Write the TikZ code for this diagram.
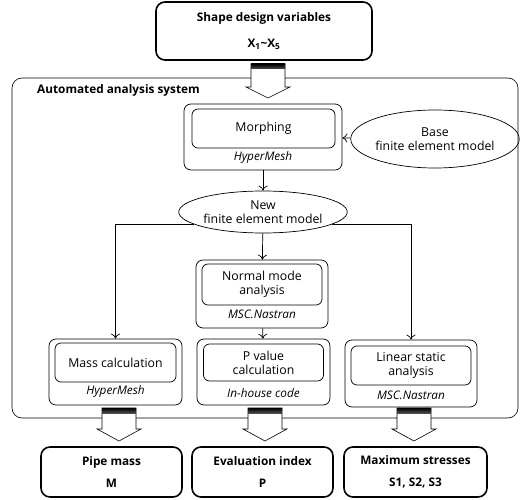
\documentclass[tikz,border=0pt]{standalone}
\usepackage{fontspec}
\setmainfont{Open Sans}
\usetikzlibrary{shapes.geometric,positioning,arrows.meta}

\begin{document}
\begin{tikzpicture}[x=1pt, y=-1pt, font=\fontsize{12.3}{14}\selectfont,
  box/.style={draw, rounded corners=7pt, line width=0.7pt, align=center, inner sep=0pt},
  inbox/.style={box, rounded corners=6pt},
  tool/.style={inner sep=0pt, font=\fontsize{11.8}{13}\selectfont\itshape},
  io/.style={draw, rounded corners=9pt, line width=1.6pt, align=center, inner sep=0pt, font=\fontsize{11.8}{14}\selectfont\bfseries},
  fem/.style={ellipse, draw, line width=0.7pt, align=center, inner sep=0pt},
  flow/.style={-{To[length=5pt, width=9pt]}, line width=0.7pt}]
  \useasboundingbox (0,0) rectangle (528,500);
  \node[io, minimum width=216pt, minimum height=58pt] (vars) at (264,31) {Shape design variables\\[12pt]X\textsubscript{1}\textasciitilde X\textsubscript{5}};
  \node[draw, rounded corners=10pt, line width=0.6pt, minimum width=506pt, minimum height=340pt] (system) at (265,248) {};
  \node[anchor=west, inner sep=0pt, font=\fontsize{11.8}{14}\selectfont\bfseries] (syslabel) at (37,90) {Automated analysis system};

  \node[box, minimum width=158pt, minimum height=66pt] (morph) at (263,137) {};
  \node[inbox, minimum width=143pt, minimum height=39pt] (morphin) at (263.5,128.5) {Morphing};
  \node[tool] (morphtool) at (263,157) {HyperMesh};
  \node[fem, minimum width=149pt, minimum height=58pt] (base) at (435,139) {Base\\finite element model};
  \node[fem, minimum width=158pt, minimum height=42pt] (newfem) at (263,212) {New\\finite element model};

  \node[box, minimum width=132pt, minimum height=68pt] (normal) at (262,294) {};
  \node[inbox, minimum width=120pt, minimum height=41pt] (normalin) at (262,284.5) {Normal mode\\analysis};
  \node[tool] (normaltool) at (262,314) {MSC.Nastran};

  \node[box, minimum width=133pt, minimum height=66pt] (mass) at (115.5,372) {};
  \node[inbox, minimum width=121pt, minimum height=39pt] (massin) at (115.5,362.5) {Mass calculation};
  \node[tool] (masstool) at (115.5,391) {HyperMesh};

  \node[box, minimum width=133pt, minimum height=66pt] (pval) at (263.5,372) {};
  \node[inbox, minimum width=120pt, minimum height=37pt] (pvalin) at (263.5,362.5) {P value\\calculation};
  \node[tool] (pvaltool) at (263.5,393) {In-house code};

  \node[box, minimum width=132pt, minimum height=67pt] (linear) at (411,373.5) {};
  \node[inbox, minimum width=120pt, minimum height=39pt] (linearin) at (411,365.5) {Linear static\\analysis};
  \node[tool] (lineartool) at (411,395) {MSC.Nastran};

  \node[io, minimum width=141pt, minimum height=50pt] (pmass) at (111.5,472) {Pipe mass\\[8pt]M};
  \node[io, minimum width=141pt, minimum height=50pt] (evalidx) at (262.5,472) {Evaluation index\\[8pt]P};
  \node[io, minimum width=143pt, minimum height=50pt] (maxstress) at (415.5,472) {Maximum stresses\\[8pt]S1, S2, S3};

  \path[flow]
    (base) edge (morph)
    (morph) edge (newfem)
    (newfem) edge (normal)
    (normal) edge (pval);
  \draw[flow] (newfem.190) -| (mass.north);
  \draw[flow] (newfem.-10) -| (linear.north);

  \foreach \x/\t/\h/\e in {268/64/87/98, 119/408/429/441, 265/408/429/441, 414/408/429/441} {
    \draw[fill=white, line width=0.6pt] (\x-17,\t) -- (\x-17,\h) -- (\x-22,\h) -- (\x,\e) -- (\x+22,\h) -- (\x+17,\h) -- (\x+17,\t) -- cycle;
    \shade[top color=black, bottom color=black!70] (\x-17,\t) rectangle (\x+17,\t+5);
  }
\end{tikzpicture}
\end{document}
